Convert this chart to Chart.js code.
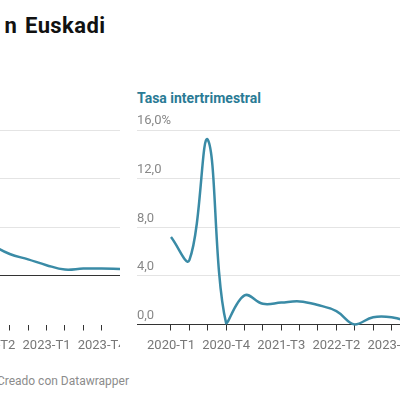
<!DOCTYPE html>
<html lang="es">
<head>
    <meta charset="UTF-8">
    <title>Tasas en Euskadi</title>
    <script src="https://cdn.jsdelivr.net/npm/chart.js"></script>
</head>
<body>
<div class="frame">
    <!-- the picture is a crop: the page continues left and right of this window -->
    <div class="main-title">n Euskadi</div>
    <div class="panel-title">Tasa intertrimestral</div>
    <canvas id="interanualChart" width="328" height="250"></canvas>
    <canvas id="trimestralChart" width="358" height="250"></canvas>
    <div class="footer">Creado con Datawrapper</div>
</div>

<script>
    // Quarters shared by both panels
    const quarters = ['2020-T1', '2020-T2', '2020-T3', '2020-T4',
                      '2021-T1', '2021-T2', '2021-T3', '2021-T4',
                      '2022-T1', '2022-T2', '2022-T3', '2022-T4',
                      '2023-T1', '2023-T2', '2023-T3', '2023-T4',
                      '2024-T1'];

    // Left panel (year-on-year rate), only the part inside the crop is read
    const interanual = [null, null, null, null, null, null, null, null, null,
                        6.4, 4.5, 3.4, 2.2, 1.3, 1.5, 1.5, 1.4];
    const interanualTicks = [-10, 0, 10, 20, 30];

    // Right panel (quarter-on-quarter rate), the end falls outside the crop
    const intertrimestral = [7.2, 5.3, 15.2, 0.1, 2.4, 1.7, 1.8, 1.9,
                             1.6, 1.1, 0.0, 0.6, 0.6, 0.2, null, null, null];
    const intertrimestralTicks = [0, 4, 8, 12, 16];

    // Every third quarter gets a label
    const labelEvery = 3;

    const lineColor = '#3a8ba6';
    const gridColor = '#e4e4e4';
    const zeroColor = '#333333';

    function fmt(v, top) {
        const s = v.toFixed(1).replace('.', ',');
        return v === top ? s + '%' : s;
    }

    function makePanel(canvasId, values, yTicks, yMin, yMax) {
        const ctx = document.getElementById(canvasId).getContext('2d');
        const points = values.map((v, i) => ({ x: i, y: v }));
        return new Chart(ctx, {
            type: 'line',
            data: {
                datasets: [{
                    data: points,
                    borderColor: lineColor,
                    borderWidth: 2.5,
                    pointRadius: 0,
                    tension: 0.4,
                    fill: false,
                    clip: false
                }]
            },
            options: {
                responsive: false,
                animation: false,
                layout: { padding: { top: 20, right: canvasId === 'trimestralChart' ? 30 : 0, left: 0, bottom: 0 } },
                plugins: { legend: { display: false }, tooltip: { enabled: false } },
                scales: {
                    x: {
                        type: 'linear',
                        min: -1.85,
                        max: quarters.length - 1,
                        afterBuildTicks: s => { s.ticks = quarters.map((q, i) => ({ value: i })); },
                        afterFit: s => { s.height = 35.5; s.paddingLeft = 0; s.paddingRight = 0; },
                        border: { display: false },
                        grid: { drawOnChartArea: false, drawTicks: true, tickLength: 6, color: zeroColor },
                        ticks: {
                            autoSkip: false,
                            maxRotation: 0,
                            padding: 7,
                            color: '#777777',
                            font: { family: 'Roboto', size: 13 },
                            callback: v => (v % labelEvery === 0 ? quarters[v] : '')
                        }
                    },
                    y: {
                        min: yMin,
                        max: yMax,
                        afterBuildTicks: s => { s.ticks = yTicks.map(v => ({ value: v })); },
                        afterFit: s => { s.width = 0; s.paddingTop = 0; s.paddingBottom = 0; },
                        border: { display: false },
                        grid: {
                            drawTicks: false,
                            color: c => (c.tick.value === 0 ? zeroColor : (c.tick.value < 0 ? 'rgba(0,0,0,0)' : gridColor))
                        },
                        ticks: {
                            mirror: true,
                            padding: 0,
                            labelOffset: -9,
                            color: '#888888',
                            font: { family: 'Roboto', size: 13 },
                            callback: v => fmt(v, yMax)
                        }
                    }
                }
            }
        });
    }

    makePanel('interanualChart', interanual, interanualTicks, -10, 30);
    makePanel('trimestralChart', intertrimestral, intertrimestralTicks, 0, 16);
</script>

<style>
    body {
        margin: 0;
        background-color: white;
        font-family: Roboto, Arial, sans-serif;
    }

    .frame {
        position: relative;
        width: 400px;
        height: 400px;
        overflow: hidden;
        background: white;
    }

    canvas {
        position: absolute;
        top: 110px;
    }

    #interanualChart { left: -208px; }
    #trimestralChart { left: 137px; }

    .main-title {
        position: absolute;
        top: 14.5px;
        right: 294.6px;
        font-size: 22px;
        line-height: 22px;
        font-weight: bold;
        letter-spacing: 0.4px;
        word-spacing: 2px;
        color: #111111;
        white-space: nowrap;
    }

    .panel-title {
        position: absolute;
        top: 91px;
        left: 137px;
        font-size: 14px;
        line-height: 14px;
        font-weight: bold;
        color: #2a7b95;
        white-space: nowrap;
    }

    .footer {
        position: absolute;
        top: 375px;
        right: 271px;
        font-size: 12px;
        line-height: 13px;
        color: #8c8c8c;
        white-space: nowrap;
    }
</style>
</body>
</html>
